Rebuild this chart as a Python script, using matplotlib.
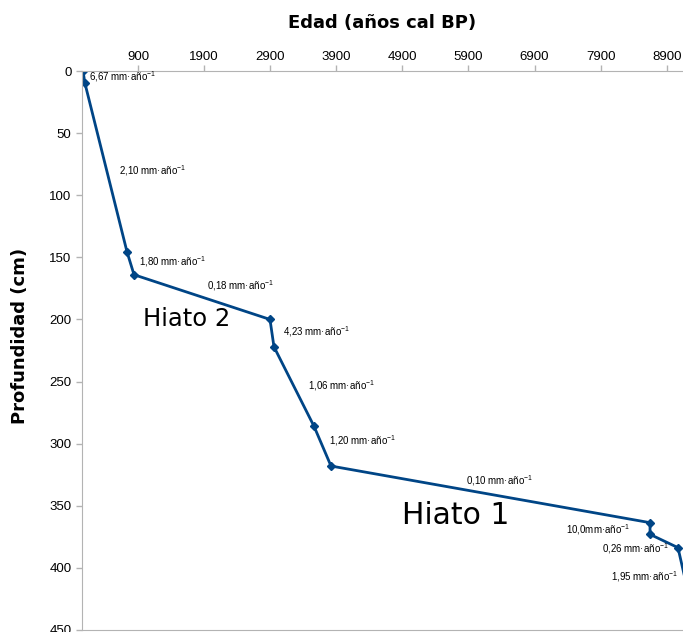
import numpy as np
import matplotlib
matplotlib.use('Agg')
import matplotlib.pyplot as plt

# edad (años cal BP) y profundidad (cm) de los puntos de control
edad = [68, 98, 734, 840, 2897, 2957, 3563, 3820, 8646, 8646, 9069, 9160]
prof = [0, 10, 145.6, 164, 200, 222, 286, 318, 363.6, 373, 383.7, 405]

tasas = ['6,67', '2,10', '1,80', '0,18', '4,23', '1,06', '1,20', '0,10', '10,0', '0,26', '1,95']
tasas_sep = [' ', ' ', ' ', ' ', ' ', ' ', ' ', ' ', '', ' ', ' ']
# posición de cada etiqueta (edad, profundidad)
tasas_x = [159, 613, 915, 1943, 3093, 3471, 3789, 5860, 7373, 7917, 8053]
tasas_y = [4.8, 80.5, 153.7, 173, 210, 253, 297.7, 330, 369, 384.6, 407]

xticks = [900, 1900, 2900, 3900, 4900, 5900, 6900, 7900, 8900]
yticks = [0, 50, 100, 150, 200, 250, 300, 350, 400, 450]

fig = plt.figure(figsize=(6.83, 6.32), dpi=100)
ax = fig.add_axes([82/683, 2/632, 601/683, 559/632])

color = '#004586'
ax.plot(edad, prof, color=color, lw=2.0, marker='D', ms=4, mec=color, mfc=color,
        markevery=list(range(len(edad) - 1)))

ax.set_xlim(53, 9145)
ax.set_ylim(450, 0)
ax.xaxis.tick_top()
ax.xaxis.set_label_position('top')
ax.set_xticks(xticks)
ax.set_yticks(yticks)
ax.tick_params(axis='both', colors='#b3b3b3', labelcolor='#000000', length=4, width=1,
               labelsize=9.5, labelfontfamily='Liberation Sans')
ax.tick_params(axis='x', pad=2)
for s in ['top', 'left', 'bottom']:
    ax.spines[s].set_color('#b3b3b3')
ax.spines['right'].set_visible(False)

ax.set_xlabel('Edad (años cal BP)', fontsize=13, fontweight='bold', labelpad=16)
ax.set_ylabel('Profundidad (cm)', fontsize=13, fontweight='bold')
ax.yaxis.set_label_coords(-0.088, 0.526)

for t, sep, x, y in zip(tasas, tasas_sep, tasas_x, tasas_y):
    ax.text(x, y, t + sep + r'mm·año$^{\mathregular{-1}}$', fontsize=7, family='Liberation Sans',
            ha='left', va='center')

ax.text(976, 199.5, 'Hiato 2', fontsize=17.5, ha='left', va='center')
ax.text(4892, 358, 'Hiato 1', fontsize=21.5, ha='left', va='center')

fig.savefig('out.png', dpi=100)
